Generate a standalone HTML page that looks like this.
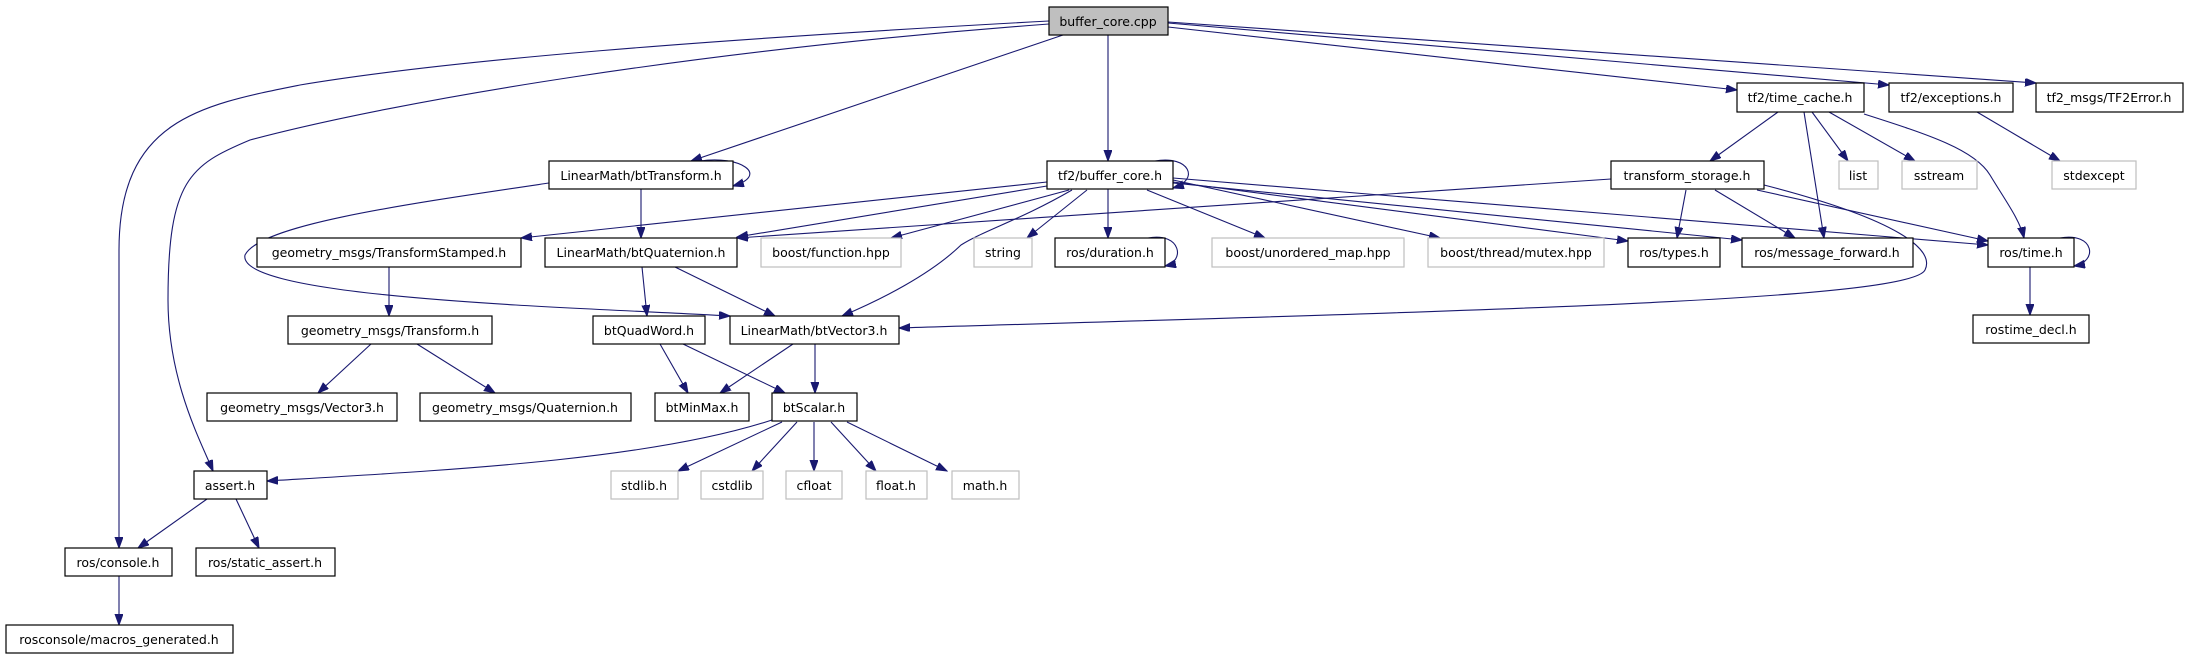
<!DOCTYPE html>
<html><head><meta charset="utf-8"><style>
html,body{margin:0;padding:0;background:#fff;}
svg{display:block;}
text{font-family:"DejaVu Sans","Liberation Sans",sans-serif;font-size:12.5px;fill:#000;}
.n{fill:#fff;stroke:#000;stroke-width:1.2;}
.g{fill:#fff;stroke:#bfbfbf;stroke-width:1.2;}
.e{fill:none;stroke:#191970;stroke-width:1.1;marker-end:url(#a);}
</style></head><body>
<svg width="2188" height="659" viewBox="0 0 2188 659" xmlns="http://www.w3.org/2000/svg">
<defs><marker id="a" markerUnits="userSpaceOnUse" markerWidth="12" markerHeight="10" refX="11" refY="4" orient="auto"><path d="M0,0 L11,4 L0,8 Z" fill="#191970" stroke="#191970"/></marker></defs>
<path class="e" d="M1049,21 C700,40 450,60 300,85 C200,105 119,120 119,250 L119,548"/>
<path class="e" d="M1049,24 C700,50 400,100 250,140 C190,165 168,180 168,300 C168,380 200,440 213,471"/>
<path class="e" d="M1063,35 L691,161"/>
<path class="e" d="M1108,35 L1108,161"/>
<path class="e" d="M1168,27 L1737,90"/>
<path class="e" d="M1168,23 L1889,85"/>
<path class="e" d="M1168,22 L2036,83"/>
<path class="e" d="M700,161 C740,155 770,175 733,186"/>
<path class="e" d="M641,189 L641,238"/>
<path class="e" d="M549,183 C400,205 260,225 245,255 C235,300 600,308 730,316"/>
<path class="e" d="M1155,161 C1190,155 1200,180 1173,188"/>
<path class="e" d="M1047,182 L521,238"/>
<path class="e" d="M1047,186 L737,237"/>
<path class="e" d="M1069,190 L891,238"/>
<path class="e" d="M1072,190 C1020,220 985,230 961,245 C930,275 880,300 842,316"/>
<path class="e" d="M1087,190 L1027,238"/>
<path class="e" d="M1108,189 L1108,238"/>
<path class="e" d="M1147,190 L1265,238"/>
<path class="e" d="M1173,180 L1440,238"/>
<path class="e" d="M1173,182 L1628,241"/>
<path class="e" d="M1173,183 L1742,240"/>
<path class="e" d="M1173,178 L1988,245"/>
<path class="e" d="M1611,179 L737,238"/>
<path class="e" d="M1686,190 L1677,238"/>
<path class="e" d="M1715,190 L1795,238"/>
<path class="e" d="M1757,190 L1988,241"/>
<path class="e" d="M1764,185 C1900,220 1935,250 1925,270 C1910,300 1500,310 899,328"/>
<path class="e" d="M1778,112 L1710,161"/>
<path class="e" d="M1812,112 L1848,161"/>
<path class="e" d="M1829,112 L1915,161"/>
<path class="e" d="M1804,112 L1824,238"/>
<path class="e" d="M1864,114 C1930,135 1975,150 1990,175 C2005,200 2020,220 2024,238"/>
<path class="e" d="M1977,112 L2060,161"/>
<path class="e" d="M2060,238 C2095,232 2098,262 2074,266"/>
<path class="e" d="M2030,267 L2030,315"/>
<path class="e" d="M1148,238 C1182,232 1185,262 1165,266"/>
<path class="e" d="M389,267 L389,316"/>
<path class="e" d="M642,267 L647,316"/>
<path class="e" d="M675,267 L775,316"/>
<path class="e" d="M371,344 L318,393"/>
<path class="e" d="M417,344 L495,393"/>
<path class="e" d="M660,344 L688,393"/>
<path class="e" d="M683,344 L785,393"/>
<path class="e" d="M793,344 L720,393"/>
<path class="e" d="M815,344 L815,393"/>
<path class="e" d="M772,420 C650,460 450,470 267,481"/>
<path class="e" d="M782,422 L678,471"/>
<path class="e" d="M797,422 L752,471"/>
<path class="e" d="M814,422 L814,471"/>
<path class="e" d="M831,422 L876,471"/>
<path class="e" d="M847,422 L947,471"/>
<path class="e" d="M207,499 L138,548"/>
<path class="e" d="M236,499 L259,548"/>
<path class="e" d="M119,576 L119,625"/>
<g text-anchor="middle">
<rect x="1049" y="7" width="119" height="28" fill="#bfbfbf" stroke="#000" stroke-width="1.2"/><text x="1108" y="26">buffer_core.cpp</text>
<rect class="n" x="1737" y="83" width="127" height="29"/><text x="1800" y="102">tf2/time_cache.h</text>
<rect class="n" x="1889" y="83" width="124" height="29"/><text x="1951" y="102">tf2/exceptions.h</text>
<rect class="n" x="2036" y="83" width="147" height="29"/><text x="2109" y="102">tf2_msgs/TF2Error.h</text>
<rect class="n" x="549" y="161" width="184" height="28"/><text x="641" y="180">LinearMath/btTransform.h</text>
<rect class="n" x="1047" y="161" width="126" height="28"/><text x="1110" y="180">tf2/buffer_core.h</text>
<rect class="n" x="1611" y="161" width="153" height="28"/><text x="1687" y="180">transform_storage.h</text>
<rect class="g" x="1839" y="161" width="39" height="28"/><text x="1858" y="180">list</text>
<rect class="g" x="1902" y="161" width="75" height="28"/><text x="1939" y="180">sstream</text>
<rect class="g" x="2052" y="161" width="84" height="28"/><text x="2094" y="180">stdexcept</text>
<rect class="n" x="257" y="238" width="264" height="29"/><text x="389" y="257">geometry_msgs/TransformStamped.h</text>
<rect class="n" x="545" y="238" width="192" height="29"/><text x="641" y="257">LinearMath/btQuaternion.h</text>
<rect class="g" x="761" y="238" width="140" height="29"/><text x="831" y="257">boost/function.hpp</text>
<rect class="g" x="974" y="238" width="58" height="29"/><text x="1003" y="257">string</text>
<rect class="n" x="1055" y="238" width="110" height="29"/><text x="1110" y="257">ros/duration.h</text>
<rect class="g" x="1212" y="238" width="192" height="29"/><text x="1308" y="257">boost/unordered_map.hpp</text>
<rect class="g" x="1428" y="238" width="176" height="29"/><text x="1516" y="257">boost/thread/mutex.hpp</text>
<rect class="n" x="1628" y="238" width="92" height="29"/><text x="1674" y="257">ros/types.h</text>
<rect class="n" x="1742" y="238" width="171" height="29"/><text x="1827" y="257">ros/message_forward.h</text>
<rect class="n" x="1988" y="238" width="86" height="29"/><text x="2031" y="257">ros/time.h</text>
<rect class="n" x="288" y="316" width="204" height="28"/><text x="390" y="335">geometry_msgs/Transform.h</text>
<rect class="n" x="593" y="316" width="112" height="28"/><text x="649" y="335">btQuadWord.h</text>
<rect class="n" x="730" y="316" width="169" height="28"/><text x="814" y="335">LinearMath/btVector3.h</text>
<rect class="n" x="1973" y="315" width="116" height="28"/><text x="2031" y="334">rostime_decl.h</text>
<rect class="n" x="207" y="393" width="190" height="28"/><text x="302" y="412">geometry_msgs/Vector3.h</text>
<rect class="n" x="420" y="393" width="211" height="28"/><text x="525" y="412">geometry_msgs/Quaternion.h</text>
<rect class="n" x="655" y="393" width="94" height="28"/><text x="702" y="412">btMinMax.h</text>
<rect class="n" x="772" y="393" width="85" height="28"/><text x="814" y="412">btScalar.h</text>
<rect class="n" x="194" y="471" width="73" height="28"/><text x="230" y="490">assert.h</text>
<rect class="g" x="611" y="471" width="67" height="28"/><text x="644" y="490">stdlib.h</text>
<rect class="g" x="701" y="471" width="62" height="28"/><text x="732" y="490">cstdlib</text>
<rect class="g" x="786" y="471" width="56" height="28"/><text x="814" y="490">cfloat</text>
<rect class="g" x="866" y="471" width="61" height="28"/><text x="896" y="490">float.h</text>
<rect class="g" x="952" y="471" width="67" height="28"/><text x="985" y="490">math.h</text>
<rect class="n" x="65" y="548" width="107" height="28"/><text x="118" y="567">ros/console.h</text>
<rect class="n" x="196" y="548" width="139" height="28"/><text x="265" y="567">ros/static_assert.h</text>
<rect class="n" x="6" y="625" width="227" height="28"/><text x="119" y="644">rosconsole/macros_generated.h</text>
</g>
</svg>
</body></html>
